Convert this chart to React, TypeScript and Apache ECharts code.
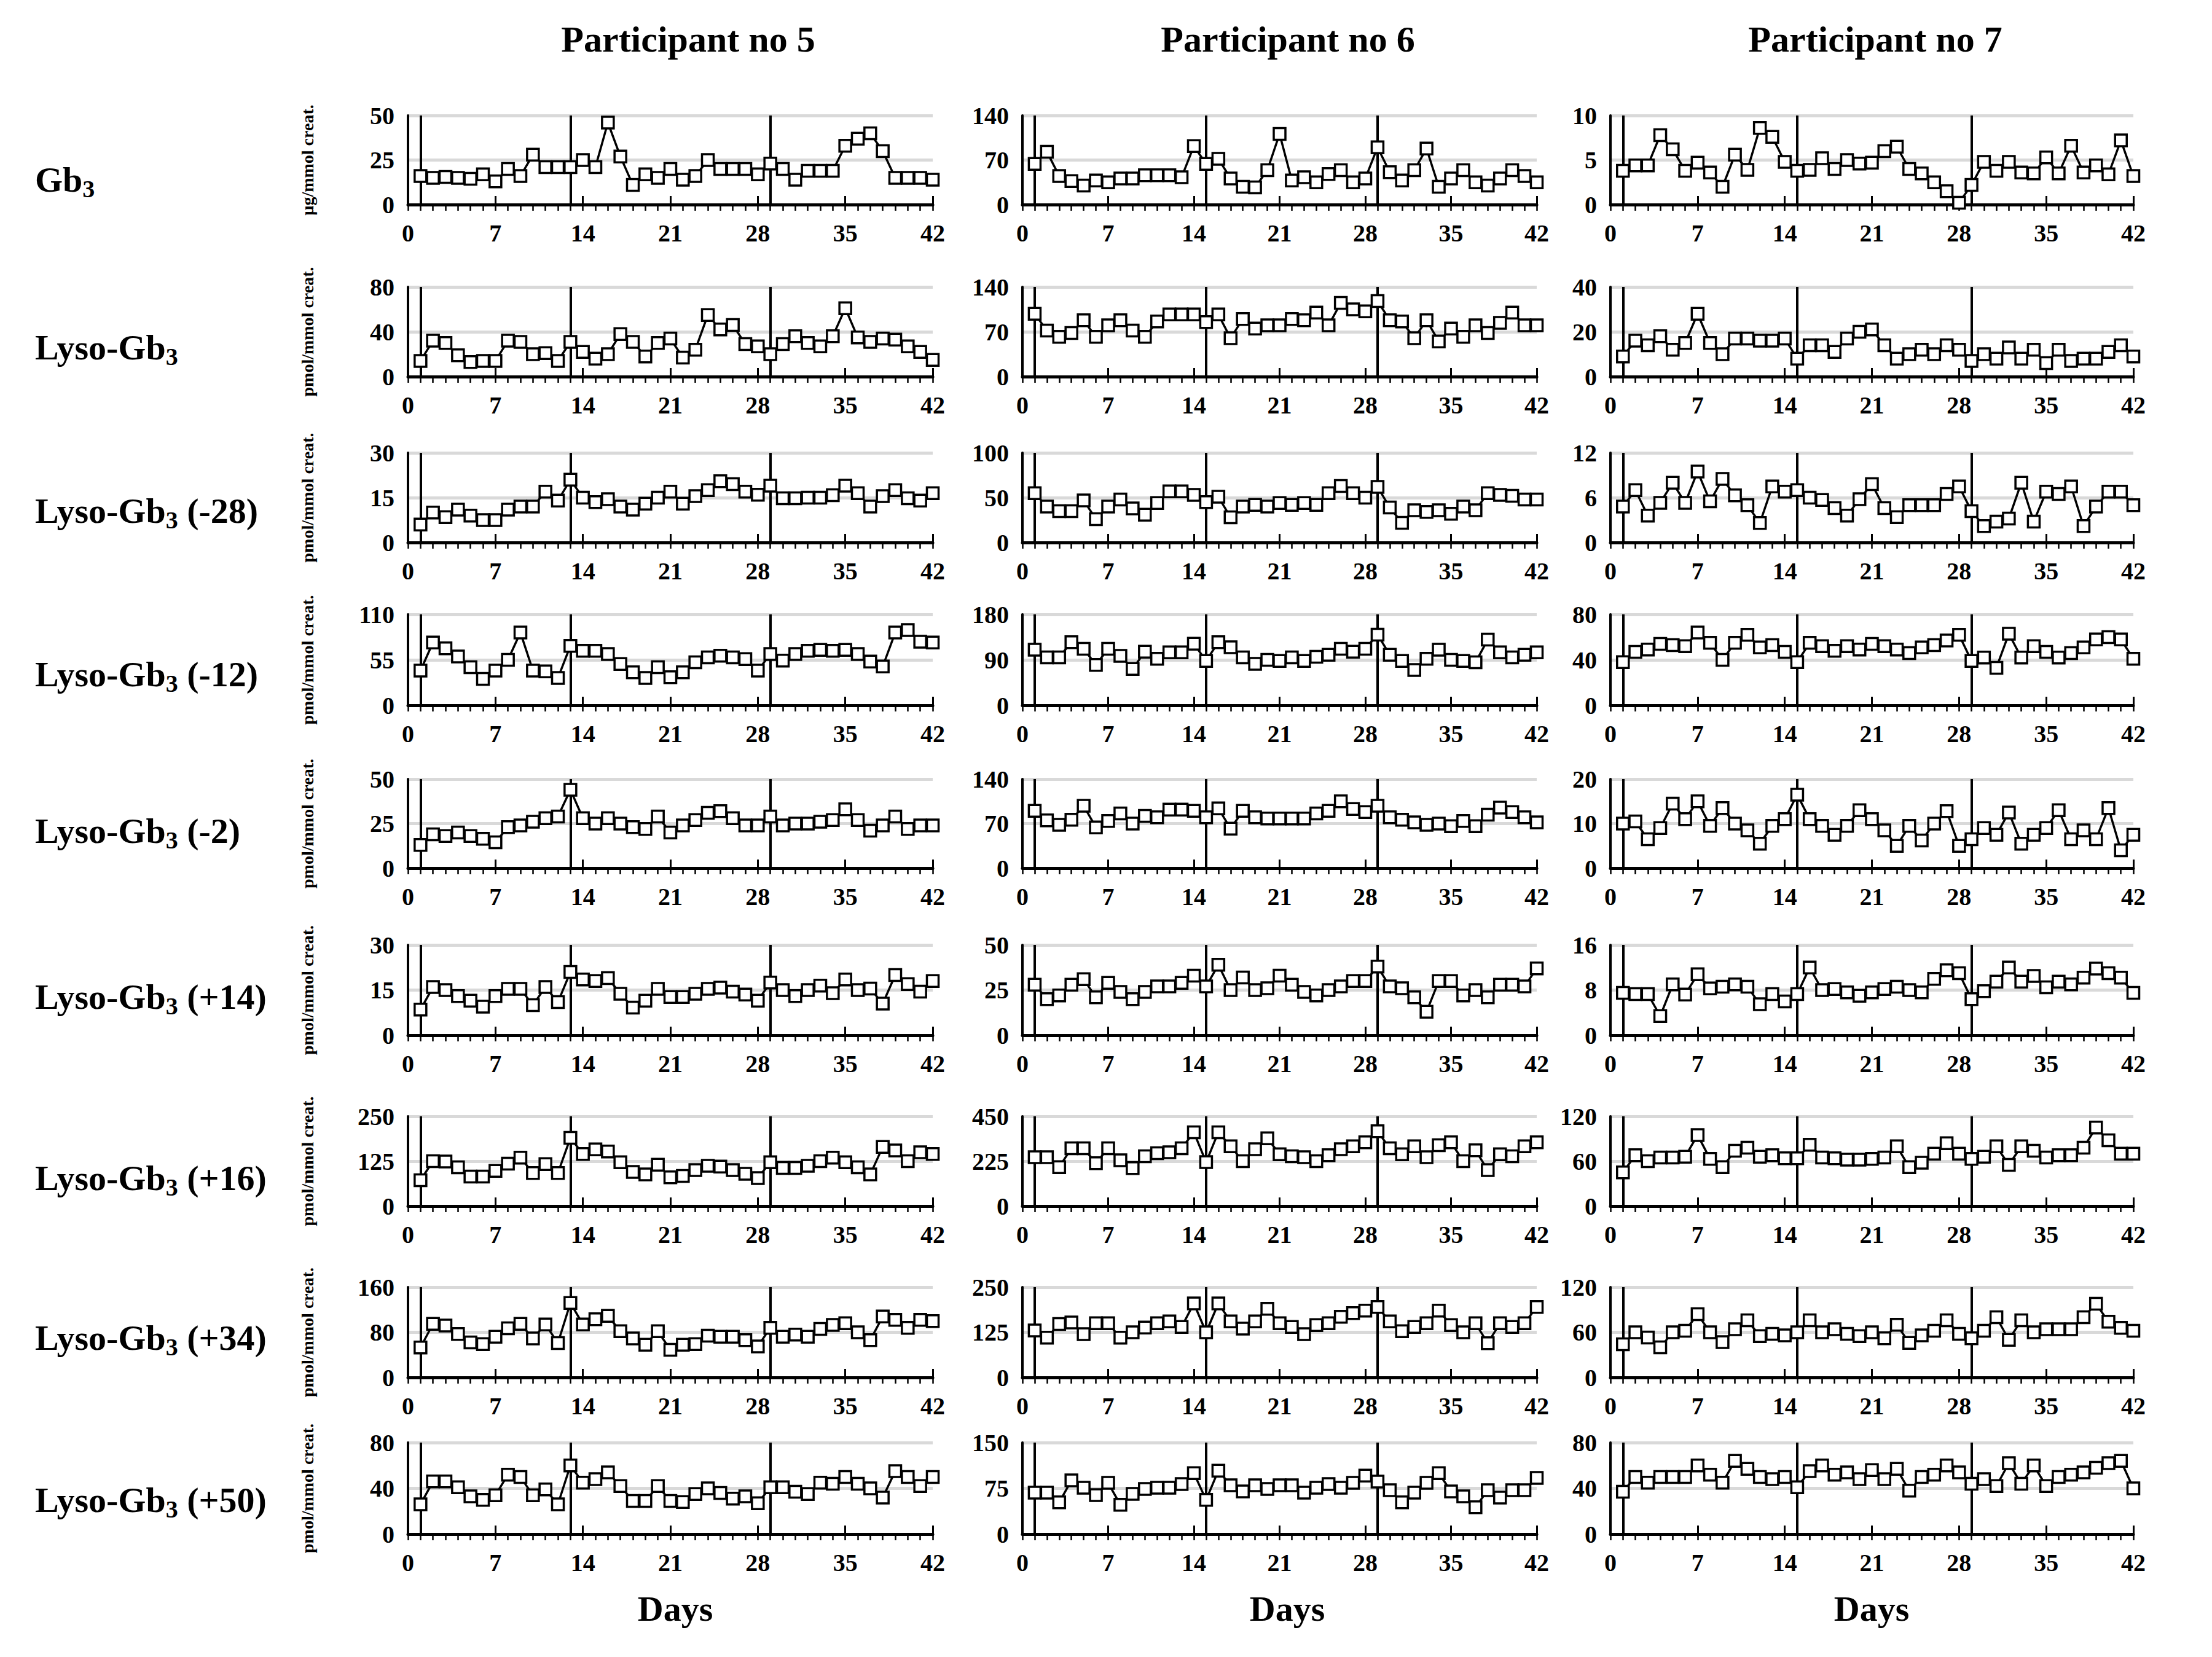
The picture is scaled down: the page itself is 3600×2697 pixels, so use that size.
import React, { useEffect, useRef } from "react";
import * as echarts from "echarts";

const FONT = '"Liberation Serif", "Times New Roman", serif';

// Sampling days (one sample per day)
const DAYS = Array.from({ length: 42 }, (_, i) => i + 1);

const PARTICIPANTS = ["Participant no 5", "Participant no 6", "Participant no 7"];
const MARK_DAYS_P5 = [1, 13, 29];
const MARK_DAYS_P6 = [1, 15, 29];
const MARK_DAYS_P7 = [1, 15, 29];

// Row 1: Gb3
const P5_GB3 = [16,15,15.5,15,14.5,17,13,20,16,28,21,21,21,25,21,46,27,11,17,15,20,14,16,25,20,20,20,17,23,20,14,19,19,19,33,37,40,30,15,15,15,14];
const P6_GB3 = [64,83,45,37,30,38,35,41,41,46,46,46,43,92,64,72,41,28,27,54,111,38,43,35,48,54,35,41,90,51,38,54,88,28,41,54,35,30,41,54,45,35];
const P7_GB3 = [3.8,4.4,4.4,7.8,6.2,3.8,4.7,3.6,2,5.6,3.9,8.6,7.6,4.8,3.8,3.9,5.2,4,5,4.6,4.7,6,6.5,4,3.5,2.5,1.5,0.2,2.2,4.8,3.8,4.8,3.6,3.5,5.3,3.5,6.6,3.6,4.4,3.4,7.2,3.2];
// Row 2: Lyso-Gb3
const P5_LYSO = [14,32,30,19,13,14,14,32,31,20,21,14,31,22,16,20,38,31,18,30,34,17,24,55,42,46,29,27,20,29,36,30,27,36,61,35,31,34,33,27,22,15];
const P6_LYSO = [98,72,62,68,88,62,80,88,72,62,86,97,97,97,85,97,60,90,75,80,80,90,88,100,80,115,105,102,118,88,86,60,88,55,75,62,80,68,84,100,80,80];
const P7_LYSO = [9,16,14,18,12,15,28,15,10,17,17,16,16,17,8,14,14,11,17,20,21,14,8,10,12,10,14,12,7,10,8,13,8,12,6,12,7,8,8,11,14,9];
// Row 3: Lyso-Gb3 (-28)
const P5_M28 = [6,10,8.5,11,9,7.5,7.5,11,12,12,17,14,21,15,13.5,14.5,12,11,13,15,17,13,15.5,17.5,20.5,19.5,17,16,19,14.8,14.8,15,15,15.8,19,16.5,12,15.5,17.5,14.8,14,16.5];
const P6_M28 = [55,40,35,35,47,26,40,48,38,31,44,57,57,53,45,51,28,40,42,40,44,42,44,42,55,63,55,50,62,39,22,36,34,36,32,40,36,55,53,52,48,48];
const P7_M28 = [4.8,7,3.6,5.3,8,5.3,9.5,5.5,8.5,6.3,5,2.6,7.5,6.8,7,6,5.7,4.6,3.6,5.8,7.8,4.6,3.4,5,5,5,6.5,7.5,4.2,2.2,2.8,3.2,8,2.8,6.8,6.5,7.5,2.2,4.8,6.8,6.8,5];
// Row 4: Lyso-Gb3 (-12)
const P5_M12 = [42,76,69,59,46,32,42,55,88,42,41,33,72,66,66,62,50,40,33,46,34,40,52,58,60,58,56,42,62,54,62,66,67,66,67,62,53,47,88,91,77,76];
const P6_M12 = [110,95,95,125,112,80,112,98,72,106,92,105,105,122,88,125,115,95,82,90,88,95,88,96,100,112,106,112,140,100,88,70,92,110,90,88,85,130,105,95,100,105];
const P7_M12 = [38,47,49,54,53,52,64,55,40,55,62,51,53,47,38,55,52,48,52,49,54,52,49,46,51,53,57,62,39,42,33,63,42,52,47,42,46,51,58,60,58,41];
// Row 5: Lyso-Gb3 (-2)
const P5_M2 = [13,19,18,20,18,16.5,14.5,23,24,26,28,29,44,28,25,28,25,23,22,29,20,24,27,31,32,28,24,24,29,24,25,25,26,27,33,27,21,24,29,22,24,24];
const P6_M2 = [90,75,68,76,98,64,74,86,70,82,80,92,92,90,80,94,62,90,80,78,78,78,78,86,90,105,93,88,98,80,76,72,68,70,66,74,66,84,95,88,80,72];
const P7_M2 = [10,10.5,6.5,9,14.5,11,15,9.5,13.5,10,8.5,5.5,9.5,11,16.5,11,9.5,7.5,9.5,13,11,8.5,5,9.5,6.2,10,12.8,5,6.5,9,7.5,12.5,5.5,7.5,9,13,6.5,8.5,6.5,13.5,4,7.5];
// Row 6: Lyso-Gb3 (+14)
const P5_P14 = [8.5,16,15,13,11.5,9.5,13,15.4,15.4,10,16,11,21,18.5,18,19,13.8,9.2,11.5,15.4,12.7,12.7,13.8,15.4,15.8,14.5,13.5,11.5,17.5,15,13,15,16.5,14,18.5,15,15.5,10.5,20,17,14.5,18];
const P6_P14 = [28,20,22,28,31,21,29,24,20,24,27,27,29,33,27,39,25,32,25,26,33,28,24,22,25,27,30,30,38,27,26,21,13,30,30,22,25,21,28,28,27,37];
const P7_P14 = [7.5,7.3,7.3,3.4,9,7.2,10.8,8.3,8.6,9,8.6,5.5,7.3,6,7.3,12,8,8.2,7.6,7,7.6,8.2,8.6,8,7.6,10,11.5,11,6.4,7.8,9.5,12,9.5,10.5,8.5,9.5,9,10.2,11.8,11,10.2,7.5];
// Row 7: Lyso-Gb3 (+16)
const P5_P16 = [72,125,124,108,82,82,98,118,135,92,117,92,190,145,158,152,122,95,88,115,80,84,100,112,110,100,90,78,122,106,106,112,125,135,122,108,88,165,155,125,150,145];
const P6_P16 = [245,245,195,290,290,215,290,230,190,250,265,270,290,370,220,370,300,225,285,340,260,250,245,225,255,285,300,320,375,290,260,300,245,305,320,225,280,180,260,250,300,320];
const P7_P16 = [45,68,60,65,65,66,95,63,52,74,78,66,68,64,64,82,65,64,62,62,63,65,80,52,58,70,84,70,63,66,80,55,80,74,65,68,68,78,105,88,70,70];
// Row 8: Lyso-Gb3 (+34)
const P5_P34 = [53,95,92,77,62,59,72,87,95,69,94,61,132,94,103,109,82,69,58,82,49,58,59,74,72,72,66,55,88,72,76,72,86,93,96,80,66,108,102,88,102,100];
const P6_P34 = [130,110,148,152,120,150,150,110,125,138,150,155,140,205,125,205,155,135,155,190,150,140,120,145,150,168,178,185,195,155,128,140,150,185,145,125,150,95,150,140,150,195];
const P7_P34 = [44,60,53,40,60,62,84,60,47,64,76,55,58,56,60,76,60,64,58,55,60,52,70,46,56,62,76,58,52,62,80,50,76,60,64,64,64,80,98,74,66,62];
// Row 9: Lyso-Gb3 (+50)
const P5_P50 = [26,46,46,41,33,30,34,52,50,34,39,26,60,45,48,54,42,29,29,42,29,28,35,40,36,31,33,27,41,41,37,35,45,44,50,44,40,32,55,50,42,50];
const P6_P50 = [68,68,52,88,76,64,84,48,66,74,76,76,82,100,56,104,80,70,80,74,80,80,68,76,82,76,84,96,86,72,52,68,84,100,70,62,44,72,60,72,72,92];
const P7_P50 = [37,50,45,50,50,50,60,52,45,64,57,50,48,50,41,55,60,52,54,48,56,48,57,38,50,52,60,54,44,48,42,62,44,60,42,50,52,54,58,62,64,40];

// Row labels: [main, subscript, suffix]
const ROW_LABELS = [
  ["Gb", "3", ""],
  ["Lyso-Gb", "3", ""],
  ["Lyso-Gb", "3", " (-28)"],
  ["Lyso-Gb", "3", " (-12)"],
  ["Lyso-Gb", "3", " (-2)"],
  ["Lyso-Gb", "3", " (+14)"],
  ["Lyso-Gb", "3", " (+16)"],
  ["Lyso-Gb", "3", " (+34)"],
  ["Lyso-Gb", "3", " (+50)"],
];
const UNITS = ["µg/mmol creat.", "pmol/mmol creat.", "pmol/mmol creat.", "pmol/mmol creat.", "pmol/mmol creat.", "pmol/mmol creat.", "pmol/mmol creat.", "pmol/mmol creat.", "pmol/mmol creat."];
const Y_MAX = [
  [50, 140, 10],
  [80, 140, 40],
  [30, 100, 12],
  [110, 180, 80],
  [50, 140, 20],
  [30, 50, 16],
  [250, 450, 120],
  [160, 250, 120],
  [80, 150, 80],
];
const SERIES = [
  [P5_GB3, P6_GB3, P7_GB3],
  [P5_LYSO, P6_LYSO, P7_LYSO],
  [P5_M28, P6_M28, P7_M28],
  [P5_M12, P6_M12, P7_M12],
  [P5_M2, P6_M2, P7_M2],
  [P5_P14, P6_P14, P7_P14],
  [P5_P16, P6_P16, P7_P16],
  [P5_P34, P6_P34, P7_P34],
  [P5_P50, P6_P50, P7_P50],
];
const MARK_DAYS = [MARK_DAYS_P5, MARK_DAYS_P6, MARK_DAYS_P7];

// Layout (pixels)
const COL_L = [664, 1664, 2621];
const COL_R = [1518, 2501, 3472];
const ROW_T = [188, 467, 737, 1000, 1268, 1538, 1817, 2095, 2348];
const ROW_B = [333, 613, 883, 1148, 1413, 1685, 1963, 2242, 2497];
const ROW_LABEL_Y = [292, 565, 831, 1097, 1352, 1622, 1917, 2177, 2441];
const TITLE_X = [1120, 2096, 3052];
const DAYS_X = [1099, 2095, 3046];

function buildOption() {
  const grid: any[] = [];
  const xAxis: any[] = [];
  const yAxis: any[] = [];
  const series: any[] = [];
  const graphic: any[] = [];

  for (let r = 0; r < 9; r++) {
    for (let c = 0; c < 3; c++) {
      const k = r * 3 + c;
      grid.push({
        left: COL_L[c],
        top: ROW_T[r],
        width: COL_R[c] - COL_L[c],
        height: ROW_B[r] - ROW_T[r],
        containLabel: false,
      });
      xAxis.push({
        gridIndex: k,
        type: "value",
        position: "bottom",
        min: 0,
        max: 42,
        interval: 7,
        axisLine: { show: true, onZero: false, lineStyle: { color: "#000", width: 5 } },
        axisTick: { show: true, inside: true, length: 14, lineStyle: { color: "#000", width: 3 } },
        axisLabel: {
          show: true,
          margin: 26,
          color: "#000",
          fontFamily: FONT,
          fontWeight: "bold",
          fontSize: 40,
        },
        splitLine: { show: false },
      });
      xAxis.push({
        gridIndex: k,
        type: "value",
        position: "bottom",
        min: 0,
        max: 42,
        interval: 1,
        axisLine: { show: false },
        axisTick: { show: true, inside: false, length: 10, lineStyle: { color: "#000", width: 2.5 } },
        axisLabel: { show: false },
        splitLine: { show: false },
      });
      const m = Y_MAX[r][c];
      yAxis.push({
        gridIndex: k,
        type: "value",
        min: 0,
        max: m,
        interval: m / 2,
        axisLine: { show: true, onZero: false, lineStyle: { color: "#000", width: 4 } },
        axisTick: { show: false },
        axisLabel: {
          show: true,
          margin: 22,
          color: "#000",
          fontFamily: FONT,
          fontWeight: "bold",
          fontSize: 40,
        },
        splitLine: { show: true, lineStyle: { color: "#d9d9d9", width: 5 } },
      });
      series.push({
        type: "line",
        xAxisIndex: 2 * k,
        yAxisIndex: k,
        data: [],
        z: 2,
        silent: true,
        markLine: {
          silent: true,
          symbol: ["none", "none"],
          label: { show: false },
          emphasis: { disabled: true },
          lineStyle: { color: "#000", type: "solid", width: 4 },
          data: MARK_DAYS[c].map((d) => ({ xAxis: d })),
        },
      });
      const vals = SERIES[r][c];
      series.push({
        type: "line",
        xAxisIndex: 2 * k,
        yAxisIndex: k,
        data: DAYS.map((d, i) => [d, vals[i]]),
        symbol: "rect",
        symbolSize: 19,
        showSymbol: true,
        showAllSymbol: true,
        itemStyle: { color: "#fff", borderColor: "#000", borderWidth: 3.5 },
        lineStyle: { color: "#000", width: 3.5 },
        emphasis: { disabled: true },
        silent: true,
        z: 5,
      });
    }

    // Row label with subscript
    const [main, sub, suffix] = ROW_LABELS[r];
    const text = suffix ? `{a|${main}}{s|${sub}}{a|${suffix}}` : `{a|${main}}{s|${sub}}`;
    graphic.push({
      type: "text",
      x: 57,
      y: ROW_LABEL_Y[r],
      silent: true,
      style: {
        text,
        align: "left",
        verticalAlign: "middle",
        fill: "#000",
        fontFamily: FONT,
        fontWeight: "bold",
        fontSize: 58,
        rich: {
          a: { fontFamily: FONT, fontWeight: "bold", fontSize: 58, fill: "#000", lineHeight: 70 },
          s: { fontFamily: FONT, fontWeight: "bold", fontSize: 40, fill: "#000", lineHeight: 26, verticalAlign: "bottom" },
        },
      },
    });
    // Unit label (rotated)
    graphic.push({
      type: "text",
      x: 500,
      y: (ROW_T[r] + ROW_B[r]) / 2,
      rotation: Math.PI / 2,
      silent: true,
      style: {
        text: UNITS[r],
        align: "center",
        verticalAlign: "middle",
        fill: "#000",
        fontFamily: FONT,
        fontWeight: "bold",
        fontSize: 28,
      },
    });
  }

  for (let c = 0; c < 3; c++) {
    graphic.push({
      type: "text",
      x: TITLE_X[c],
      y: 64,
      silent: true,
      style: {
        text: PARTICIPANTS[c],
        align: "center",
        verticalAlign: "middle",
        fill: "#000",
        fontFamily: FONT,
        fontWeight: "bold",
        fontSize: 60,
      },
    });
    graphic.push({
      type: "text",
      x: DAYS_X[c],
      y: 2618,
      silent: true,
      style: {
        text: "Days",
        align: "center",
        verticalAlign: "middle",
        fill: "#000",
        fontFamily: FONT,
        fontWeight: "bold",
        fontSize: 58,
      },
    });
  }

  return {
    animation: false,
    backgroundColor: "#fff",
    grid,
    xAxis,
    yAxis,
    series,
    graphic,
  };
}

export default function App() {
  const ref = useRef<HTMLDivElement>(null);
  useEffect(() => {
    if (!ref.current) return;
    const chart = echarts.init(ref.current, null, { renderer: "svg" });
    chart.setOption(buildOption() as any);
    return () => chart.dispose();
  }, []);
  return (
    <div
      ref={ref}
      style={{ position: "absolute", left: 0, top: 0, width: 3600, height: 2697, background: "#fff" }}
    />
  );
}
